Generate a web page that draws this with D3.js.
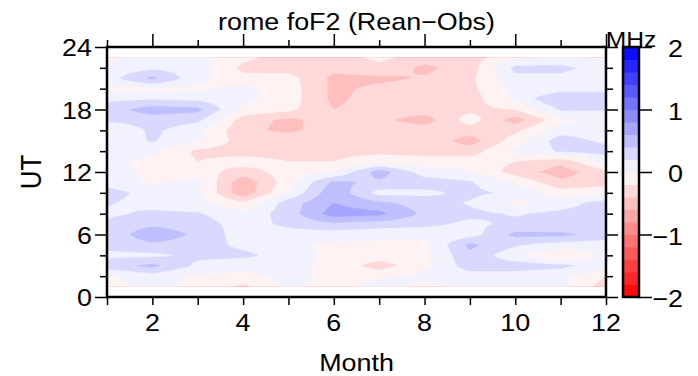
<!DOCTYPE html>
<html>
<head>
<meta charset="utf-8">
<script src="https://cdn.jsdelivr.net/npm/d3@7"></script>
<style>
  html, body { margin: 0; padding: 0; background: #fff; }
  svg { display: block; font-family: "Liberation Sans", Arial, Helvetica, sans-serif; }
</style>
</head>
<body>
<svg id="chart" width="698" height="376"></svg>
<script>
// ---------------- data ----------------
const title = "rome foF2 (Rean\u2212Obs)";
const xLabel = "Month";
const yLabel = "UT";
const unitLabel = "MHz";
const months = d3.range(1, 13);          // 1..12
const utHours = d3.range(1, 24);         // 1..23 (grid rows)
const xTickLabels = [2, 4, 6, 8, 10, 12];
const yTickLabels = [0, 6, 12, 18, 24];
const cbTickLabels = [-2, -1, 0, 1, 2];
const levels = d3.range(20).map(i => +(-2 + i * 0.2).toFixed(1));

// foF2 difference (MHz), one row per UT hour (1..23), columns = months 1..12
const diff = [
  [-0.05, 0.05, -0.05, -0.25, 0.05, -0.10, 0.10, -0.05, 0.05, 0.05, 0.05, -0.30], // 1
  [-0.03, 0.10, -0.05, -0.05, 0.05, -0.05, -0.05, 0.05, 0.10, 0.10, 0.05, -0.20], // 2
  [0.30, 0.45, 0.15, 0.05, 0.05, -0.05, -0.30, -0.05, 0.30, 0.30, 0.25, 0.10],   // 3
  [0.15, 0.15, 0.25, 0.25, 0.10, -0.05, -0.10, -0.05, 0.35, 0.05, -0.22, 0.05],  // 4
  [0.25, 0.35, 0.30, 0.15, 0.05, -0.05, -0.05, -0.05, 0.45, 0.22, 0.10, 0.10],   // 5
  [0.25, 0.55, 0.35, 0.10, 0.10, 0.10, 0.05, 0.05, 0.10, 0.45, 0.45, 0.30],      // 6
  [0.25, 0.35, 0.30, 0.10, 0.25, 0.35, 0.30, 0.25, 0.15, 0.25, 0.22, 0.25],      // 7
  [0.15, 0.25, 0.22, 0.05, 0.30, 0.70, 0.65, 0.35, 0.25, 0.18, 0.25, 0.30],      // 8
  [0.22, 0.10, 0.05, -0.15, 0.30, 0.60, 0.45, 0.30, 0.18, -0.05, 0.10, 0.30],    // 9
  [0.30, 0.10, 0.05, -0.55, 0.02, 0.55, 0.12, 0.15, 0.25, 0.15, -0.10, -0.05],   // 10
  [0.10, -0.03, 0.05, -0.55, -0.08, 0.45, 0.35, 0.30, 0.22, -0.02, -0.35, -0.30], // 11
  [0.10, -0.05, -0.10, -0.30, -0.10, -0.02, 0.50, 0.10, 0.02, -0.30, -0.50, -0.25], // 12
  [0.05, -0.05, -0.20, -0.10, -0.20, -0.20, -0.10, -0.15, -0.10, -0.20, -0.35, 0.05], // 13
  [0.05, 0.05, -0.25, -0.30, -0.30, -0.25, -0.25, -0.25, -0.30, 0.05, 0.22, 0.30],  // 14
  [0.05, 0.22, 0.02, -0.30, -0.25, -0.20, -0.25, -0.25, -0.50, -0.10, 0.30, 0.15],  // 15
  [-0.05, 0.25, 0.05, -0.35, -0.45, -0.30, -0.30, -0.30, -0.30, -0.25, 0.10, 0.10], // 16
  [0.25, 0.30, 0.25, -0.30, -0.45, -0.30, -0.35, -0.50, -0.10, -0.50, -0.05, 0.05], // 17
  [0.30, 0.50, 0.45, -0.05, -0.15, -0.40, -0.30, -0.30, -0.25, -0.20, 0.22, 0.22],  // 18
  [0.15, 0.18, 0.15, 0.05, -0.10, -0.45, -0.30, -0.30, -0.30, 0.05, 0.40, 0.30],    // 19
  [-0.05, -0.05, -0.03, 0.05, -0.10, -0.45, -0.35, -0.30, -0.25, 0.05, 0.10, 0.15], // 20
  [0.10, 0.45, 0.05, -0.15, -0.12, -0.45, -0.45, -0.38, -0.25, 0.15, 0.15, 0.10],   // 21
  [0.05, 0.15, 0.10, -0.25, -0.30, -0.35, -0.25, -0.45, -0.30, 0.25, 0.25, 0.10],   // 22
  [-0.05, 0.10, 0.05, -0.15, -0.30, -0.30, -0.15, -0.30, -0.30, -0.05, 0.05, -0.05] // 23
];

// ---------------- layout ----------------
const SX = 1.12;           // horizontal glyph stretch of the reference
const FONT = 24;
const plot = { left: 107, right: 606, top: 47, bottom: 297 };
const cb = { left: 623, right: 639 };

const svg = d3.select("#chart");
const x = d3.scaleLinear().domain([1, 12]).range([plot.left, plot.right]);
const y = d3.scaleLinear().domain([0, 24]).range([plot.bottom, plot.top]);
const cbScale = d3.scaleLinear().domain([-2, 2]).range([plot.bottom, plot.top]);

function bandColor(t) {
  const c = t + 0.1;
  if (c < 0) { const k = Math.round(255 * (1 + c / 2)); return `rgb(255,${k},${k})`; }
  const k = Math.round(255 * (1 - c / 2)); return `rgb(${k},${k},255)`;
}

function label(px, py, s, size, anchor, rot) {
  const g = svg.append("g")
    .attr("transform", `translate(${px},${py}) scale(${SX},1)` + (rot ? ` rotate(${rot})` : ""));
  g.append("text").attr("text-anchor", anchor).attr("font-size", size)
    .attr("fill", "#000").text(s);
}

// ---------------- contour field ----------------
const res = 8;
const nm = months.length, nh = utHours.length;
const nx = (nm - 1) * res + 1, ny = (nh - 1) * res + 1;
const grid = new Float64Array(nx * ny);
for (let j = 0; j < ny; j++) {
  const fh = j / res, h0 = Math.min(Math.floor(fh), nh - 2), th = fh - h0;
  for (let i = 0; i < nx; i++) {
    const fm = i / res, m0 = Math.min(Math.floor(fm), nm - 2), tm = fm - m0;
    const v = (1 - th) * ((1 - tm) * diff[h0][m0] + tm * diff[h0][m0 + 1]) +
              th * ((1 - tm) * diff[h0 + 1][m0] + tm * diff[h0 + 1][m0 + 1]);
    grid[j * nx + i] = v;
  }
}
const contours = d3.contours().size([nx, ny]).thresholds(levels)(grid);
const mStart = months[0], hStart = utHours[0];
const proj = d3.geoTransform({
  point(gx, gy) {
    this.stream.point(x(mStart + (gx - 0.5) / res), y(hStart + (gy - 0.5) / res));
  }
});
const path = d3.geoPath(proj);

svg.append("clipPath").attr("id", "dataClip").append("rect")
  .attr("x", x(months[0])).attr("width", x(months[nm - 1]) - x(months[0]))
  .attr("y", y(utHours[nh - 1])).attr("height", y(utHours[0]) - y(utHours[nh - 1]));

svg.append("g").attr("clip-path", "url(#dataClip)")
  .selectAll("path").data(contours).join("path")
  .attr("d", path)
  .attr("fill", d => bandColor(d.value))
  .attr("stroke", d => bandColor(d.value))
  .attr("stroke-width", 0.4);

// ---------------- axes ticks ----------------
const majorX = d3.range(2, 13, 2), minorX = d3.range(1, 13, 2);
const majorY = yTickLabels, minorY = d3.range(2, 24, 6).concat(d3.range(4, 24, 6));

function tickGroup(axisFn, transform) {
  const g = svg.append("g").attr("transform", transform).call(axisFn);
  g.select(".domain").remove();
  g.selectAll("line").attr("stroke", "#000").attr("stroke-width", 1.5);
  g.selectAll("text").remove();
}
// bottom (all short)
tickGroup(d3.axisBottom(x).tickValues(months).tickSize(8).tickFormat(""), `translate(0,${plot.bottom})`);
// top
tickGroup(d3.axisTop(x).tickValues(majorX).tickSize(13).tickFormat(""), `translate(0,${plot.top})`);
tickGroup(d3.axisTop(x).tickValues(minorX).tickSize(7).tickFormat(""), `translate(0,${plot.top})`);
// left
tickGroup(d3.axisLeft(y).tickValues(majorY).tickSize(12).tickFormat(""), `translate(${plot.left},0)`);
tickGroup(d3.axisLeft(y).tickValues(minorY).tickSize(7).tickFormat(""), `translate(${plot.left},0)`);
// right
tickGroup(d3.axisRight(y).tickValues(majorY).tickSize(12).tickFormat(""), `translate(${plot.right},0)`);
tickGroup(d3.axisRight(y).tickValues(minorY).tickSize(7).tickFormat(""), `translate(${plot.right},0)`);

// frame
svg.append("rect").attr("x", plot.left).attr("y", plot.top)
  .attr("width", plot.right - plot.left).attr("height", plot.bottom - plot.top)
  .attr("fill", "none").attr("stroke", "#000").attr("stroke-width", 2.5);

// tick labels
xTickLabels.forEach(v => label(x(v), 331, String(v), FONT, "middle"));
yTickLabels.forEach(v => label(92, y(v) + 9, String(v), FONT, "end"));

// titles
label((plot.left + plot.right) / 2, 30, title, FONT, "middle");
label((plot.left + plot.right) / 2, 371, xLabel, FONT, "middle");
label(41, (plot.top + plot.bottom) / 2, yLabel, 26, "middle", -90);

// ---------------- colorbar ----------------
svg.append("g").selectAll("rect").data(levels).join("rect")
  .attr("x", cb.left).attr("width", cb.right - cb.left)
  .attr("y", d => cbScale(d + 0.2)).attr("height", d => cbScale(d) - cbScale(d + 0.2) + 0.5)
  .attr("fill", d => bandColor(d));
svg.append("rect").attr("x", cb.left).attr("y", plot.top)
  .attr("width", cb.right - cb.left).attr("height", plot.bottom - plot.top)
  .attr("fill", "none").attr("stroke", "#000").attr("stroke-width", 2.5);
tickGroup(d3.axisRight(cbScale).tickValues(cbTickLabels).tickSize(13).tickFormat(""), `translate(${cb.right},0)`);
cbTickLabels.forEach(v => label(683, cbScale(v) + 10, (v < 0 ? "\u2212" : "") + Math.abs(v), FONT, "end"));
label((cb.left + cb.right) / 2, plot.top, unitLabel, 22, "middle");
</script>
</body>
</html>
